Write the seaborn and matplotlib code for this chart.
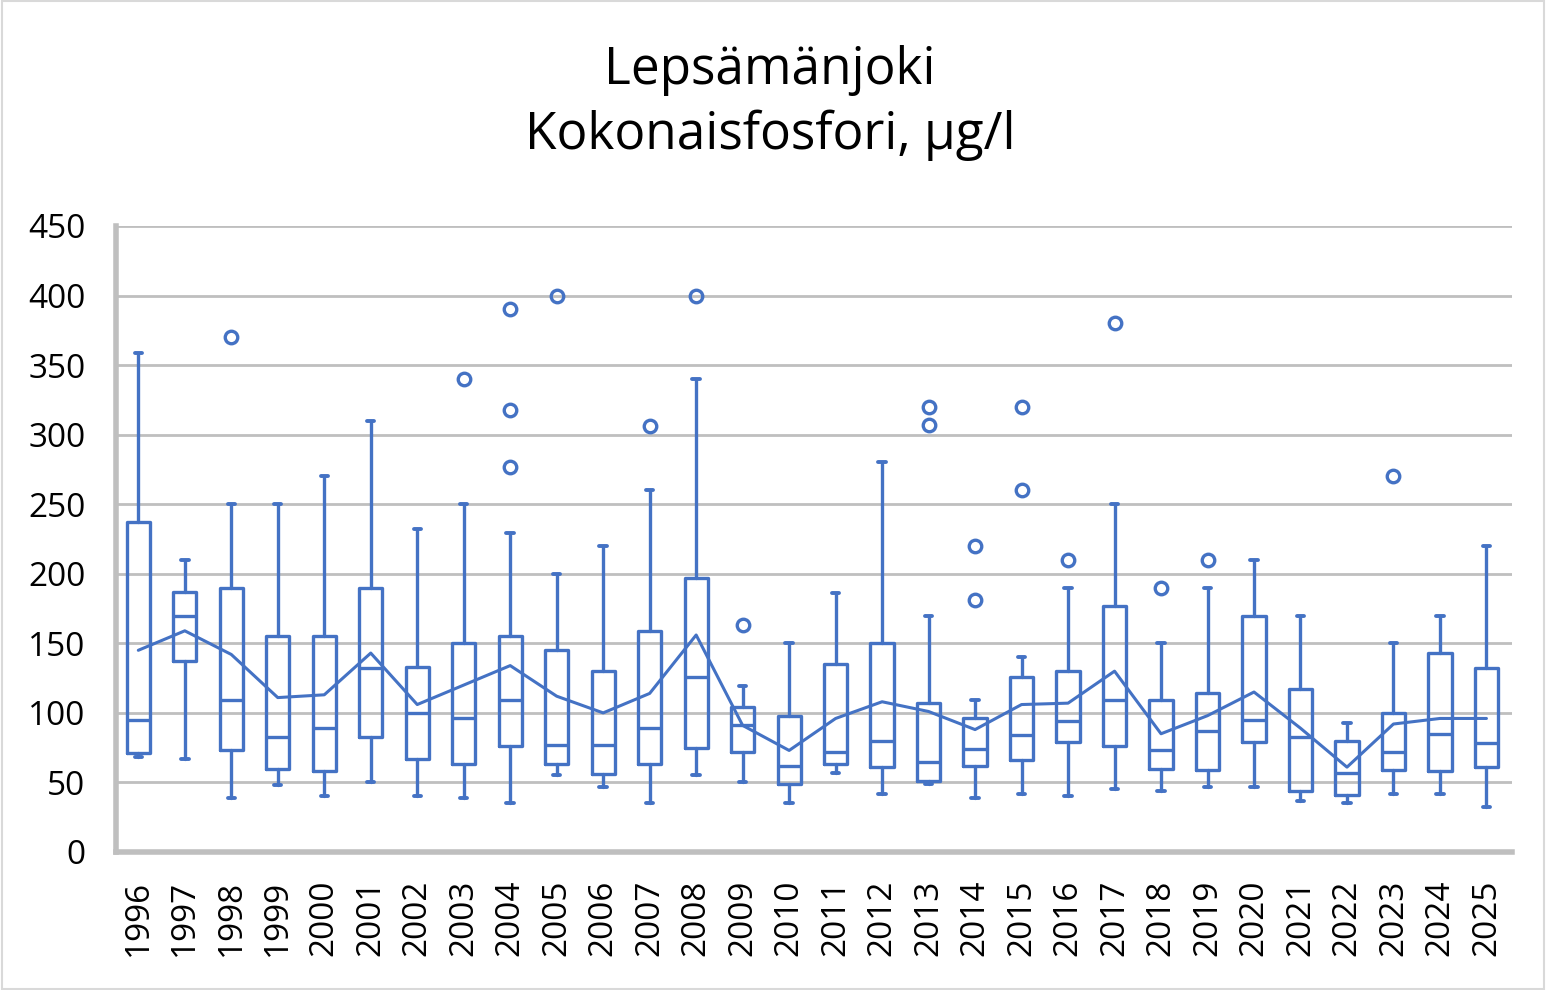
import numpy as np
import seaborn as sns
import matplotlib.pyplot as plt
from matplotlib.patches import Rectangle

years = [str(y) for y in range(1996, 2026)]

# box stats (µg/l)
whisk_lo = [68, 67, 39, 48, 40, 50, 40, 39, 35, 55, 47, 35, 55, 50, 35,
            57, 42, 49, 39, 42, 40, 45, 44, 47, 47, 37, 35, 42, 42, 32]
q1 = [71, 137, 73, 60, 58, 83, 67, 63, 76, 63, 56, 63, 75, 72, 49,
      63, 61, 51, 62, 66, 79, 76, 60, 59, 79, 44, 41, 59, 58, 61]
median = [95, 170, 109, 83, 89, 132, 100, 96, 109, 77, 77, 89, 126, 91, 62,
          72, 80, 65, 74, 84, 94, 109, 73, 87, 95, 83, 57, 72, 85, 78]
q3 = [237, 187, 190, 155, 155, 190, 133, 150, 155, 145, 130, 159, 197, 104, 98,
      135, 150, 107, 96, 126, 130, 177, 109, 114, 170, 117, 80, 100, 143, 132]
whisk_hi = [359, 210, 250, 250, 270, 310, 232, 250, 229, 200, 220, 260, 340, 119, 150,
            186, 280, 170, 109, 140, 190, 250, 150, 190, 210, 170, 93, 150, 170, 220]
means = [145, 159, 142, 111, 113, 143, 106, 120, 134, 112, 100, 114, 156, 91, 73,
         96, 108, 101, 88, 106, 107, 130, 85, 98, 115, 89, 61, 92, 96, 96]
outliers = {
    "1998": [370], "2003": [340], "2004": [390, 318, 277], "2005": [400],
    "2007": [306], "2008": [400], "2009": [163], "2013": [320, 307],
    "2014": [220, 181], "2015": [320, 260], "2016": [210], "2017": [380],
    "2018": [190], "2019": [210], "2023": [270],
}

blue = "#4472C4"
grey = "#BFBFBF"

sns.set_theme(style="white")
plt.rcParams["font.family"] = ["Open Sans", "DejaVu Sans"]
plt.rcParams["text.color"] = "black"
plt.rcParams["xtick.color"] = "black"
plt.rcParams["ytick.color"] = "black"

fig = plt.figure(figsize=(15.46, 9.9), dpi=100)
ax = fig.add_axes([116 / 1546, 1 - 852 / 990, (1512 - 116) / 1546, (852 - 226) / 990])

stats = []
for i, yr in enumerate(years):
    stats.append(dict(label=yr, whislo=whisk_lo[i], q1=q1[i], med=median[i],
                      q3=q3[i], whishi=whisk_hi[i], fliers=outliers.get(yr, [])))

ax.bxp(stats, positions=range(len(years)), widths=0.5, capwidths=0.16,
       manage_ticks=False, showfliers=True,
       boxprops=dict(color=blue, lw=2.4),
       medianprops=dict(color=blue, lw=2.4),
       whiskerprops=dict(color=blue, lw=2.4),
       capprops=dict(color=blue, lw=2.8),
       flierprops=dict(marker="o", markerfacecolor="none", markeredgecolor=blue,
                       markersize=9, markeredgewidth=2.4))

sns.lineplot(x=np.arange(len(years)), y=means, color=blue, lw=2.2, ax=ax)

ax.set_xlim(-0.48, 29.55)
ax.set_ylim(0, 450)
ax.set_yticks(range(0, 451, 50))
ax.set_xticks(range(len(years)))
ax.set_xticklabels(years, rotation=90, fontsize=24)
ax.tick_params(axis="y", labelsize=24, pad=22, length=0)
ax.tick_params(axis="x", pad=20, length=0)
ax.set_xlabel("")
ax.set_ylabel("")

ax.yaxis.grid(True, color=grey, lw=2)
ax.set_axisbelow(True)
for side in ["top", "right"]:
    ax.spines[side].set_visible(False)
for side in ["left", "bottom"]:
    ax.spines[side].set_color(grey)
    ax.spines[side].set_linewidth(4)

fig.text(0.498, 1 - 84 / 990, "Lepsämänjoki", ha="center", va="baseline", fontsize=37)
fig.text(0.498, 1 - 149 / 990, "Kokonaisfosfori, µg/l", ha="center", va="baseline", fontsize=37)

fig.patches.append(Rectangle((0.001, 0.001), 0.998, 0.998, transform=fig.transFigure,
                             fill=False, edgecolor="#D9D9D9", lw=1.5))

fig.savefig("out.png", dpi=100)
